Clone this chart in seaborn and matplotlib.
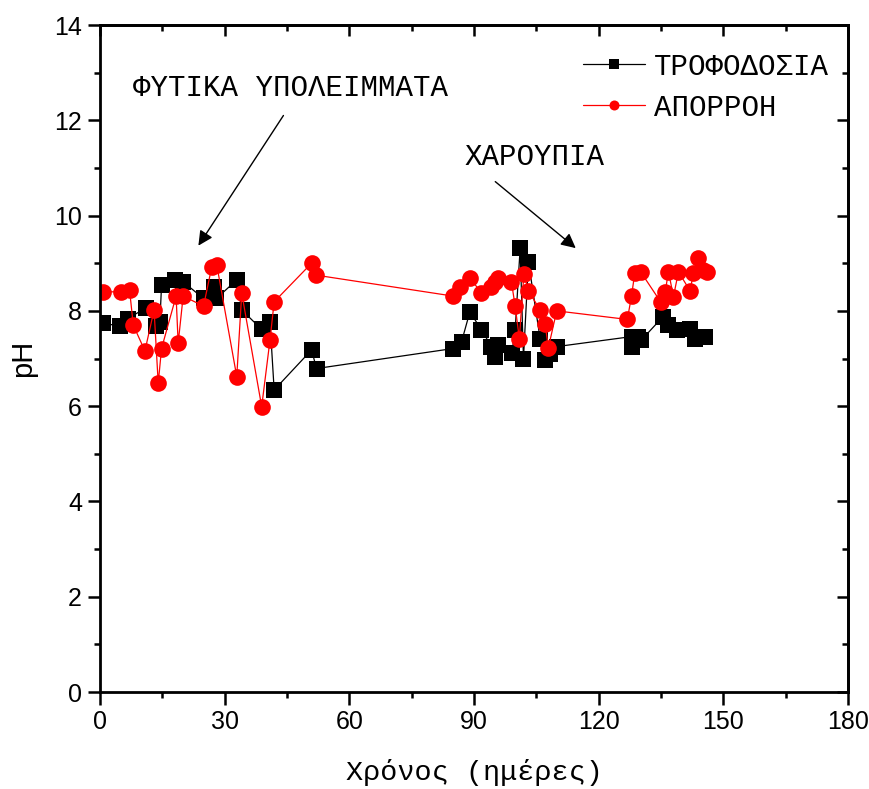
# pH of feed and runoff versus time
import matplotlib as mpl
import matplotlib.pyplot as plt
from matplotlib.ticker import MultipleLocator
import numpy as np
import seaborn as sns
import pandas as pd

# Data
dayFeed = [0.8, 4.8, 6.8, 11.1, 13.5, 14.4, 14.8, 18.0, 20.0, 24.9, 27.5, 28.0,
           32.9, 34.1, 38.9, 40.9, 41.9, 50.9, 52.1,
           85.0, 87.0, 89.0, 91.8, 94.2, 95.0, 95.8, 99.1, 99.9, 101.1, 101.9,
           103.1, 105.9, 107.1, 108.3, 109.9,
           127.9, 127.9, 129.5, 130.3, 135.5, 136.7, 138.8, 142.0, 143.2, 145.6]
phFeed = [7.74, 7.68, 7.84, 8.07, 7.68, 7.77, 8.54, 8.65, 8.61, 8.26, 8.51, 8.26,
          8.65, 8.02, 7.61, 7.77, 6.34, 7.18, 6.79,
          7.21, 7.35, 7.98, 7.60, 7.25, 7.04, 7.28, 7.11, 7.60, 9.31, 7.00,
          9.03, 7.42, 6.97, 7.10, 7.25,
          7.46, 7.25, 7.46, 7.39, 7.88, 7.70, 7.60, 7.63, 7.42, 7.46]
dayRunoff = [0.8, 5.0, 7.1, 8.0, 10.8, 13.0, 14.0, 14.8, 18.3, 18.8, 20.0, 24.9,
             26.9, 28.1, 32.9, 34.1, 38.9, 40.9, 41.9, 50.9, 52.0,
             85.0, 86.6, 89.0, 91.8, 94.2, 95.0, 95.8, 99.0, 99.9, 100.9, 102.0,
             103.1, 105.9, 107.1, 107.9, 109.9,
             126.9, 127.9, 128.7, 130.1, 134.9, 136.0, 136.8, 138.0, 139.2, 142.0,
             142.8, 144.0, 145.2, 146.0]
phRunoff = [8.40, 8.40, 8.44, 7.70, 7.16, 8.02, 6.48, 7.21, 8.31, 7.32, 8.31, 8.10,
            8.93, 8.96, 6.62, 8.37, 5.99, 7.39, 8.19, 9.00, 8.75,
            8.31, 8.51, 8.70, 8.37, 8.51, 8.61, 8.70, 8.61, 8.10, 7.42, 8.77,
            8.42, 8.02, 7.72, 7.23, 8.00,
            7.82, 8.31, 8.80, 8.82, 8.19, 8.40, 8.82, 8.30, 8.82, 8.42,
            8.80, 9.10, 8.86, 8.82]
labelFeed = 'ΤΡΟΦΟΔΟΣΙΑ'
labelRunoff = 'ΑΠΟΡΡΟΗ'

dfFeed = pd.DataFrame({'day': dayFeed, 'pH': phFeed})
dfRunoff = pd.DataFrame({'day': dayRunoff, 'pH': phRunoff})

sns.set_style('ticks')
for k in ('text.color', 'axes.labelcolor', 'xtick.color', 'ytick.color', 'axes.edgecolor'):
    mpl.rcParams[k] = 'black'
mono = ['Liberation Mono', 'DejaVu Sans Mono']
narrow = ['Liberation Sans Narrow', 'Liberation Sans', 'DejaVu Sans']

fig, ax = plt.subplots(figsize=(8.7, 7.89), dpi=100)
fig.subplots_adjust(left=0.115, right=0.9747, bottom=0.1229, top=0.9683)

sns.lineplot(data=dfFeed, x='day', y='pH', ax=ax, sort=False, estimator=None,
             color='black', lw=0.9, marker='s', markersize=11, markeredgewidth=0,
             label=labelFeed)
sns.lineplot(data=dfRunoff, x='day', y='pH', ax=ax, sort=False, estimator=None,
             color='red', lw=0.9, marker='o', markersize=12, markeredgewidth=0,
             label=labelRunoff)

ax.set_xlim(0, 180)
ax.set_ylim(0, 14)
ax.xaxis.set_major_locator(MultipleLocator(30))
ax.xaxis.set_minor_locator(MultipleLocator(15))
ax.yaxis.set_major_locator(MultipleLocator(2))
ax.yaxis.set_minor_locator(MultipleLocator(1))
for s in ax.spines.values():
    s.set_linewidth(2.0)
    s.set_visible(True)
    s.set_color('black')
ax.tick_params(which='major', direction='out', length=9, width=1.8, labelsize=18, pad=4,
               colors='black')
ax.tick_params(which='minor', direction='out', length=4.5, width=1.8, colors='black')
for lbl in ax.get_xticklabels() + ax.get_yticklabels():
    lbl.set_family(narrow)

# mirrored inward ticks on top and right
top = ax.secondary_xaxis('top')
top.xaxis.set_major_locator(MultipleLocator(30))
top.xaxis.set_minor_locator(MultipleLocator(15))
top.tick_params(which='major', direction='in', length=8, width=1.8, labeltop=False, colors='black')
top.tick_params(which='minor', direction='in', length=4.5, width=1.8, colors='black')
right = ax.secondary_yaxis('right')
right.yaxis.set_major_locator(MultipleLocator(2))
right.yaxis.set_minor_locator(MultipleLocator(1))
right.tick_params(which='major', direction='in', length=8, width=1.8, labelright=False, colors='black')
right.tick_params(which='minor', direction='in', length=4.5, width=1.8, colors='black')
for sec in (top, right):
    for s in sec.spines.values():
        s.set_linewidth(2.0)
        s.set_color('black')

ax.set_xlabel('Χρόνος (ημέρες)', family=mono, fontsize=20.5, labelpad=18, color='black')
ax.set_ylabel('pH', family=['Liberation Sans', 'DejaVu Sans'], fontsize=21, labelpad=12,
              color='black')

# annotations
ax.text(7.9, 12.68, 'ΦΥΤΙΚΑ ΥΠΟΛΕΙΜΜΑΤΑ', family=mono, fontsize=21, va='center', ha='left')
ax.annotate('', xy=(23.3, 9.32), xytext=(44.5, 12.15),
            arrowprops=dict(arrowstyle='-|>', color='black', lw=1.0, mutation_scale=22))
ax.text(87.8, 11.23, 'ΧΑΡΟΥΠΙΑ', family=mono, fontsize=21, va='center', ha='left')
ax.annotate('', xy=(115.0, 9.28), xytext=(94.6, 10.75),
            arrowprops=dict(arrowstyle='-|>', color='black', lw=1.0, mutation_scale=22))

leg = ax.legend(loc='upper right', frameon=False, prop={'family': mono, 'size': 21},
                handlelength=2.15, handletextpad=0.3, labelspacing=0.45, markerscale=0.6,
                bbox_to_anchor=(0.998, 0.985), borderaxespad=0.2)
for t in leg.get_texts():
    t.set_color('black')

fig.savefig('out.png', dpi=100)
